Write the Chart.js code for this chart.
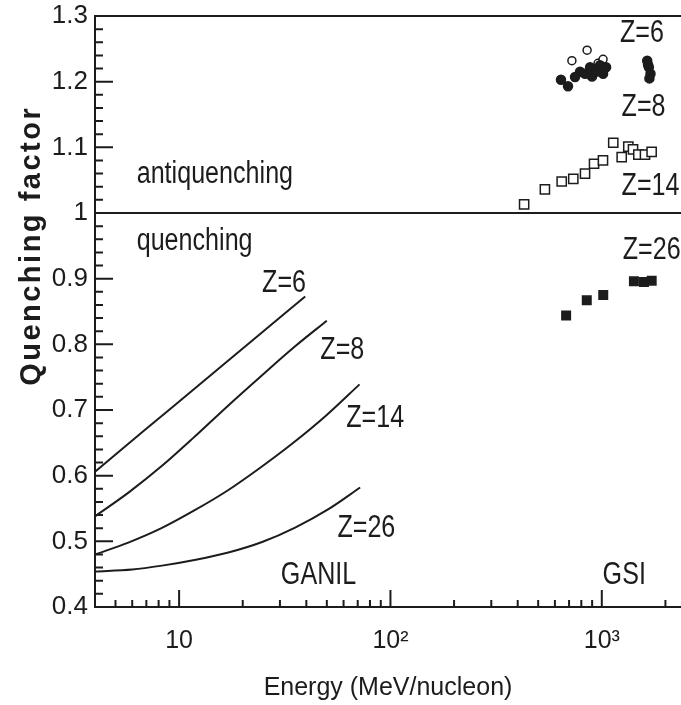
<!DOCTYPE html>
<html>
<head>
<meta charset="utf-8">
<script src="https://cdn.jsdelivr.net/npm/chart.js@4.4.1/dist/chart.umd.min.js"></script>
<style>
  html, body { margin: 0; padding: 0; background: #fff; }
  canvas { display: block; }
</style>
</head>
<body>
<canvas id="myChart" width="681" height="705"></canvas>
<script>
// GANIL calculated curves (energy in MeV/nucleon, quenching factor)
const ganilZ6Energy = [4, 6.9, 11.9, 20.6, 39.5];
const ganilZ6Factor = [0.606, 0.670, 0.733, 0.797, 0.873];
const ganilZ8Energy = [4, 5.8, 8.3, 11.9, 17.1, 24.7, 35.4, 50];
const ganilZ8Factor = [0.538, 0.575, 0.615, 0.660, 0.707, 0.753, 0.797, 0.836];
const ganilZ14Energy = [4, 5.75, 8.25, 11.8, 16.9, 24.2, 34.7, 49.8, 71.4];
const ganilZ14Factor = [0.480, 0.498, 0.520, 0.547, 0.577, 0.612, 0.650, 0.692, 0.739];
const ganilZ26Energy = [4, 6, 8.3, 12, 17.1, 24.7, 35.4, 50.9, 71.9];
const ganilZ26Factor = [0.454, 0.457, 0.463, 0.472, 0.483, 0.499, 0.521, 0.549, 0.582];

// GSI measurements
const gsiZ6Energy = [641, 692, 747, 789, 833, 880, 899, 939, 981, 1014, 1048, 1640, 1670, 1700, 1680, 1655];
const gsiZ6Factor = [1.203, 1.193, 1.207, 1.215, 1.212, 1.222, 1.208, 1.215, 1.225, 1.212, 1.222, 1.232, 1.222, 1.212, 1.205, 1.226];
const gsiZ6OpenEnergy = [722, 852, 960, 1014];
const gsiZ6OpenFactor = [1.232, 1.248, 1.228, 1.234];
const gsiZ8Energy = [429, 538, 646, 733, 833, 919, 1013, 1133, 1242, 1335, 1405, 1489, 1601, 1721];
const gsiZ8Factor = [1.013, 1.036, 1.048, 1.052, 1.060, 1.075, 1.080, 1.107, 1.085, 1.101, 1.097, 1.089, 1.089, 1.093];
const gsiZ26Energy = [678, 849, 1016, 1419, 1584, 1722];
const gsiZ26Factor = [0.844, 0.867, 0.875, 0.896, 0.895, 0.897];

// axes
const xMajorTicks = [10, 100, 1000];
const xTickLabels = ['10', '10\u00B2', '10\u00B3'];
const xMinorTicks = [5, 6, 7, 8, 9, 20, 30, 40, 50, 60, 70, 80, 90, 200, 300, 400, 500, 600, 700, 800, 900, 2000];
const yMajorTicks = [0.4, 0.5, 0.6, 0.7, 0.8, 0.9, 1, 1.1, 1.2, 1.3];
const yTickLabels = ['0.4', '0.5', '0.6', '0.7', '0.8', '0.9', '1', '1.1', '1.2', '1.3'];
const boundaryFactor = 1;

// text placed on the plot: [text, energy, factor]
const notes = [
  ['antiquenching', 6.3, 1.058],
  ['quenching', 6.3, 0.957],
  ['Z=6', 24.7, 0.893],
  ['Z=8', 46.6, 0.790],
  ['Z=14', 61.8, 0.687],
  ['Z=26', 56.1, 0.520],
  ['GANIL', 30.3, 0.448],
  ['GSI', 1009, 0.448],
  ['Z=6', 1219, 1.274],
  ['Z=8', 1241, 1.160],
  ['Z=14', 1241, 1.041],
  ['Z=26', 1256, 0.943]
];

const ink = '#1c1c1c';
const font = "'Liberation Sans', Arial, sans-serif";

const zip = (xs, ys) => xs.map((v, i) => ({x: v, y: ys[i]}));

function curve(xs, ys) {
  return {
    type: 'line',
    data: zip(xs, ys),
    borderColor: ink,
    borderWidth: 2,
    pointRadius: 0,
    cubicInterpolationMode: 'monotone',
    fill: false
  };
}

function marks(xs, ys, style, radius, filled) {
  return {
    type: 'scatter',
    data: zip(xs, ys),
    pointStyle: style,
    pointRadius: radius,
    pointBorderWidth: 1.5,
    pointBorderColor: ink,
    pointBackgroundColor: filled ? ink : '#fff'
  };
}

const frame = {
  id: 'frame',
  beforeDatasetsDraw(chart) {
    const {ctx, chartArea: a, scales: {x, y}} = chart;
    ctx.save();
    ctx.strokeStyle = ink;
    ctx.lineWidth = 2;
    ctx.beginPath();
    [y.max, boundaryFactor].forEach(v => {
      const py = Math.round(y.getPixelForValue(v));
      ctx.moveTo(a.left, py);
      ctx.lineTo(a.right, py);
    });
    // inward tick marks
    x.ticks.forEach(t => {
      const px = x.getPixelForValue(t.value);
      const len = xMajorTicks.includes(t.value) ? 17 : 7;
      ctx.moveTo(px, a.bottom);
      ctx.lineTo(px, a.bottom - len);
    });
    y.ticks.forEach(t => {
      const py = y.getPixelForValue(t.value);
      const major = yMajorTicks.some(m => Math.abs(m - t.value) < 1e-6);
      ctx.moveTo(a.left, py);
      ctx.lineTo(a.left + (major ? 18 : 8), py);
    });
    ctx.stroke();
    ctx.restore();
  },
  afterDraw(chart) {
    const {ctx, chartArea: a, scales: {x, y}} = chart;
    ctx.save();
    ctx.fillStyle = ink;
    ctx.font = '31px ' + font;
    ctx.textAlign = 'left';
    ctx.textBaseline = 'middle';
    notes.forEach(([txt, e, q]) => {
      ctx.save();
      ctx.translate(x.getPixelForValue(e), y.getPixelForValue(q));
      ctx.scale(0.81, 1);
      ctx.fillText(txt, 0, 0);
      ctx.restore();
    });
    // y axis title
    ctx.translate(a.left - 63, y.getPixelForValue(0.95));
    ctx.rotate(-Math.PI / 2);
    ctx.textAlign = 'center';
    ctx.font = 'bold 29px ' + font;
    ctx.letterSpacing = '2.5px';
    ctx.fillText('Quenching factor', 0, 0);
    ctx.restore();
  }
};

const ctx = document.getElementById('myChart');

new Chart(ctx, {
  data: {
    datasets: [
      curve(ganilZ6Energy, ganilZ6Factor),
      curve(ganilZ8Energy, ganilZ8Factor),
      curve(ganilZ14Energy, ganilZ14Factor),
      curve(ganilZ26Energy, ganilZ26Factor),
      marks(gsiZ6Energy, gsiZ6Factor, 'circle', 4.5, true),
      marks(gsiZ6OpenEnergy, gsiZ6OpenFactor, 'circle', 4, false),
      marks(gsiZ8Energy, gsiZ8Factor, 'rect', 6.5, false),
      marks(gsiZ26Energy, gsiZ26Factor, 'rect', 6, true)
    ]
  },
  options: {
    responsive: false,
    animation: false,
    layout: { autoPadding: false, padding: { top: 16, right: 0, left: 0, bottom: 0 } },
    plugins: { legend: { display: false }, tooltip: { enabled: false } },
    scales: {
      x: {
        type: 'logarithmic',
        min: 4,
        max: 2370,
        afterBuildTicks: s => {
          s.ticks = xMinorTicks.concat(xMajorTicks).sort((a, b) => a - b).map(v => ({value: v}));
        },
        afterFit: s => { s.height = 98; s.paddingLeft = 0; s.paddingRight = 0; },
        grid: { display: false, drawTicks: false },
        border: { display: true, color: ink, width: 2 },
        ticks: {
          autoSkip: false,
          maxRotation: 0,
          padding: 19,
          color: ink,
          font: { family: font, size: 25 },
          callback: v => {
            const i = xMajorTicks.indexOf(v);
            return i >= 0 ? xTickLabels[i] : '';
          }
        },
        title: {
          display: true,
          text: 'Energy (MeV/nucleon)',
          color: ink,
          font: { family: font, size: 25 },
          padding: { top: 4, bottom: 2 }
        }
      },
      y: {
        min: 0.4,
        max: 1.3,
        afterBuildTicks: s => {
          const t = [];
          for (let i = 0; i <= 45; i++) t.push({value: +(0.4 + i * 0.02).toFixed(2)});
          s.ticks = t;
        },
        afterFit: s => { s.width = 95; s.paddingTop = 0; s.paddingBottom = 0; },
        grid: { display: false, drawTicks: false },
        border: { display: true, color: ink, width: 2 },
        ticks: {
          autoSkip: false,
          padding: 7,
          color: ink,
          font: { family: font, size: 26 },
          callback: v => {
            const i = yMajorTicks.findIndex(m => Math.abs(m - v) < 1e-6);
            return i >= 0 ? yTickLabels[i] : '';
          }
        }
      }
    }
  },
  plugins: [frame]
});
</script>
</body>
</html>
